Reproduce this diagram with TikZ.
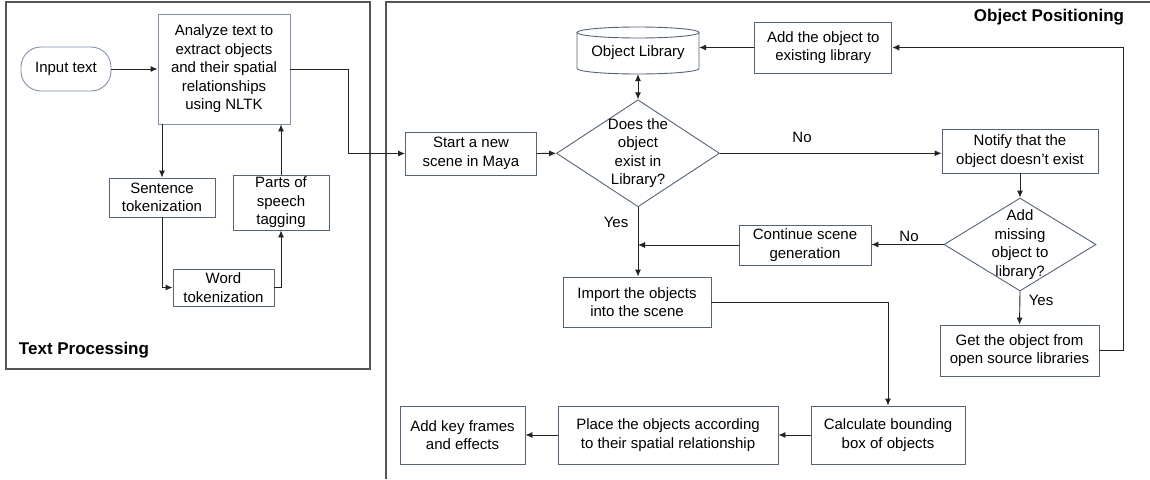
\documentclass[tikz,border=0pt]{standalone}
\usepackage{fontspec}
\setmainfont{Liberation Sans}
\usetikzlibrary{arrows.meta,shapes.geometric}
\definecolor{boxcol}{RGB}{84,98,122}
\definecolor{lightbox}{RGB}{128,144,170}
\definecolor{linecol}{RGB}{35,35,35}
\definecolor{framecol}{RGB}{85,85,85}
\begin{document}
\begin{tikzpicture}[x=1pt,y=-1pt,
  every node/.style={font=\fontsize{15}{18.5}\selectfont},
  box/.style={draw=boxcol, line width=0.9pt, align=center, inner sep=0pt},
  lbox/.style={box, draw=lightbox},
  dia/.style={draw=boxcol, line width=0.9pt, diamond, inner sep=0pt},
  conn/.style={draw=linecol, line width=0.9pt},
  arr/.style={conn, -{Latex[length=7pt,width=6pt]}},
  lab/.style={inner sep=0pt, align=center},
  title/.style={inner sep=0pt, font=\fontsize{17}{20}\selectfont\bfseries}]
\useasboundingbox (0,0) rectangle (1150,479);
% frames
\draw[framecol, line width=1.1pt] (6,2) rectangle (370,369);
\draw[framecol, line width=1.1pt] (386,479) -- (386,2) -- (1150,2);
\node[title] (ttp) at (84,350) {Text Processing};
\node[title] (top) at (1049,17) {Object Positioning};
% left part
\node[lbox, rounded corners=20pt, minimum width=90, minimum height=44] (inp) at (66,69) {Input text};
\node[lbox, minimum width=132, minimum height=110] (an) at (224,69) {Analyze text to\\extract objects\\and their spatial\\relationships\\using NLTK};
\node[box, minimum width=106, minimum height=39] (sent) at (162,197.5) {Sentence\\tokenization};
\node[box, minimum width=101, minimum height=37] (word) at (223.5,287.5) {Word\\tokenization};
\node[box, minimum width=96, minimum height=55] (parts) at (281,202.5) {Parts of\\speech\\tagging};
% right part
\node[box, minimum width=131, minimum height=43] (start) at (471,153.5) {Start a new\\scene in Maya};
\node[lab, minimum width=122, minimum height=47] (lib) at (638,50.5) {};
\draw[boxcol, line width=0.9pt] (577,32.5) -- (577,68.5) arc[start angle=180, end angle=360, x radius=61pt, y radius=5.5pt] -- (699,32.5);
\draw[boxcol, line width=0.9pt] (638,32.5) ellipse[x radius=61pt, y radius=5.5pt];
\node[lab] (libt) at (638,53) {Object Library};
\node[dia, minimum width=163, minimum height=107] (d1) at (638,153.3) {};
\node[lab] (d1t) at (638,153) {Does the\\object\\exist in\\Library?};
\node[box, minimum width=137, minimum height=51] (add) at (823.3,47.5) {Add the object to\\existing library};
\node[box, minimum width=156, minimum height=44] (notify) at (1020,151) {Notify that the\\object doesn’t exist};
\node[dia, minimum width=152, minimum height=93] (d2) at (1020,244.5) {};
\node[lab] (d2t) at (1020,244.5) {Add\\missing\\object to\\library?};
\node[box, minimum width=132, minimum height=40] (cont) at (805,245) {Continue scene\\generation};
\node[box, minimum width=148, minimum height=50] (imp) at (637,302) {Import the objects\\into the scene};
\node[box, minimum width=159, minimum height=51] (get) at (1019.5,350.5) {Get the object from\\open source libraries};
\node[box, minimum width=154, minimum height=58] (calc) at (888,435) {Calculate bounding\\box of objects};
\node[box, minimum width=220, minimum height=58] (place) at (668,435) {Place the objects according\\to their spatial relationship};
\node[box, minimum width=125, minimum height=58] (keys) at (462.5,435) {Add key frames\\and effects};
% labels
\node[lab] (yes1) at (616,222) {Yes};
\node[lab] (no1) at (802,137) {No};
\node[lab] (no2) at (909,236) {No};
\node[lab] (yes2) at (1041,300) {Yes};
% connectors left
\draw[arr] (inp.east) -- (an.west);
\draw[arr] (sent.north |- an.south) -- (sent.north);
\draw[arr] (sent.south) |- (word.west);
\draw[arr] (word.east) -| (parts.south);
\draw[arr] (parts.north) -- (parts.north |- an.south);
\coordinate (k1) at (348,69);
\draw[arr] (an.east) -- (k1) |- (start.west);
% connectors right
\draw[arr] (start.east) -- (d1.west);
\draw[conn, {Latex[length=7pt,width=6pt]}-{Latex[length=7pt,width=6pt]}] (lib.south) -- (d1.north);
\draw[arr] (add.west) -- (add.west -| lib.east);
\draw[arr] (d1.east) -- (d1.east -| notify.west);
\draw[arr] (notify.south) -- (d2.north);
\draw[arr] (d2.west) -- (d2.west -| cont.east);
\coordinate (j1) at (638,245);
\draw[arr] (cont.west) -- (j1);
\draw[arr] (d1.south) -- (d1.south |- imp.north);
\draw[arr] (d2.south) -- (get.north);
\coordinate (k2) at (1123,350.5);
\draw[arr] (get.east) -- (k2) |- (add.east);
\draw[arr] (imp.east) -| (calc.north);
\draw[arr] (calc.west) -- (place.east);
\draw[arr] (place.west) -- (keys.east);
\end{tikzpicture}
\end{document}
